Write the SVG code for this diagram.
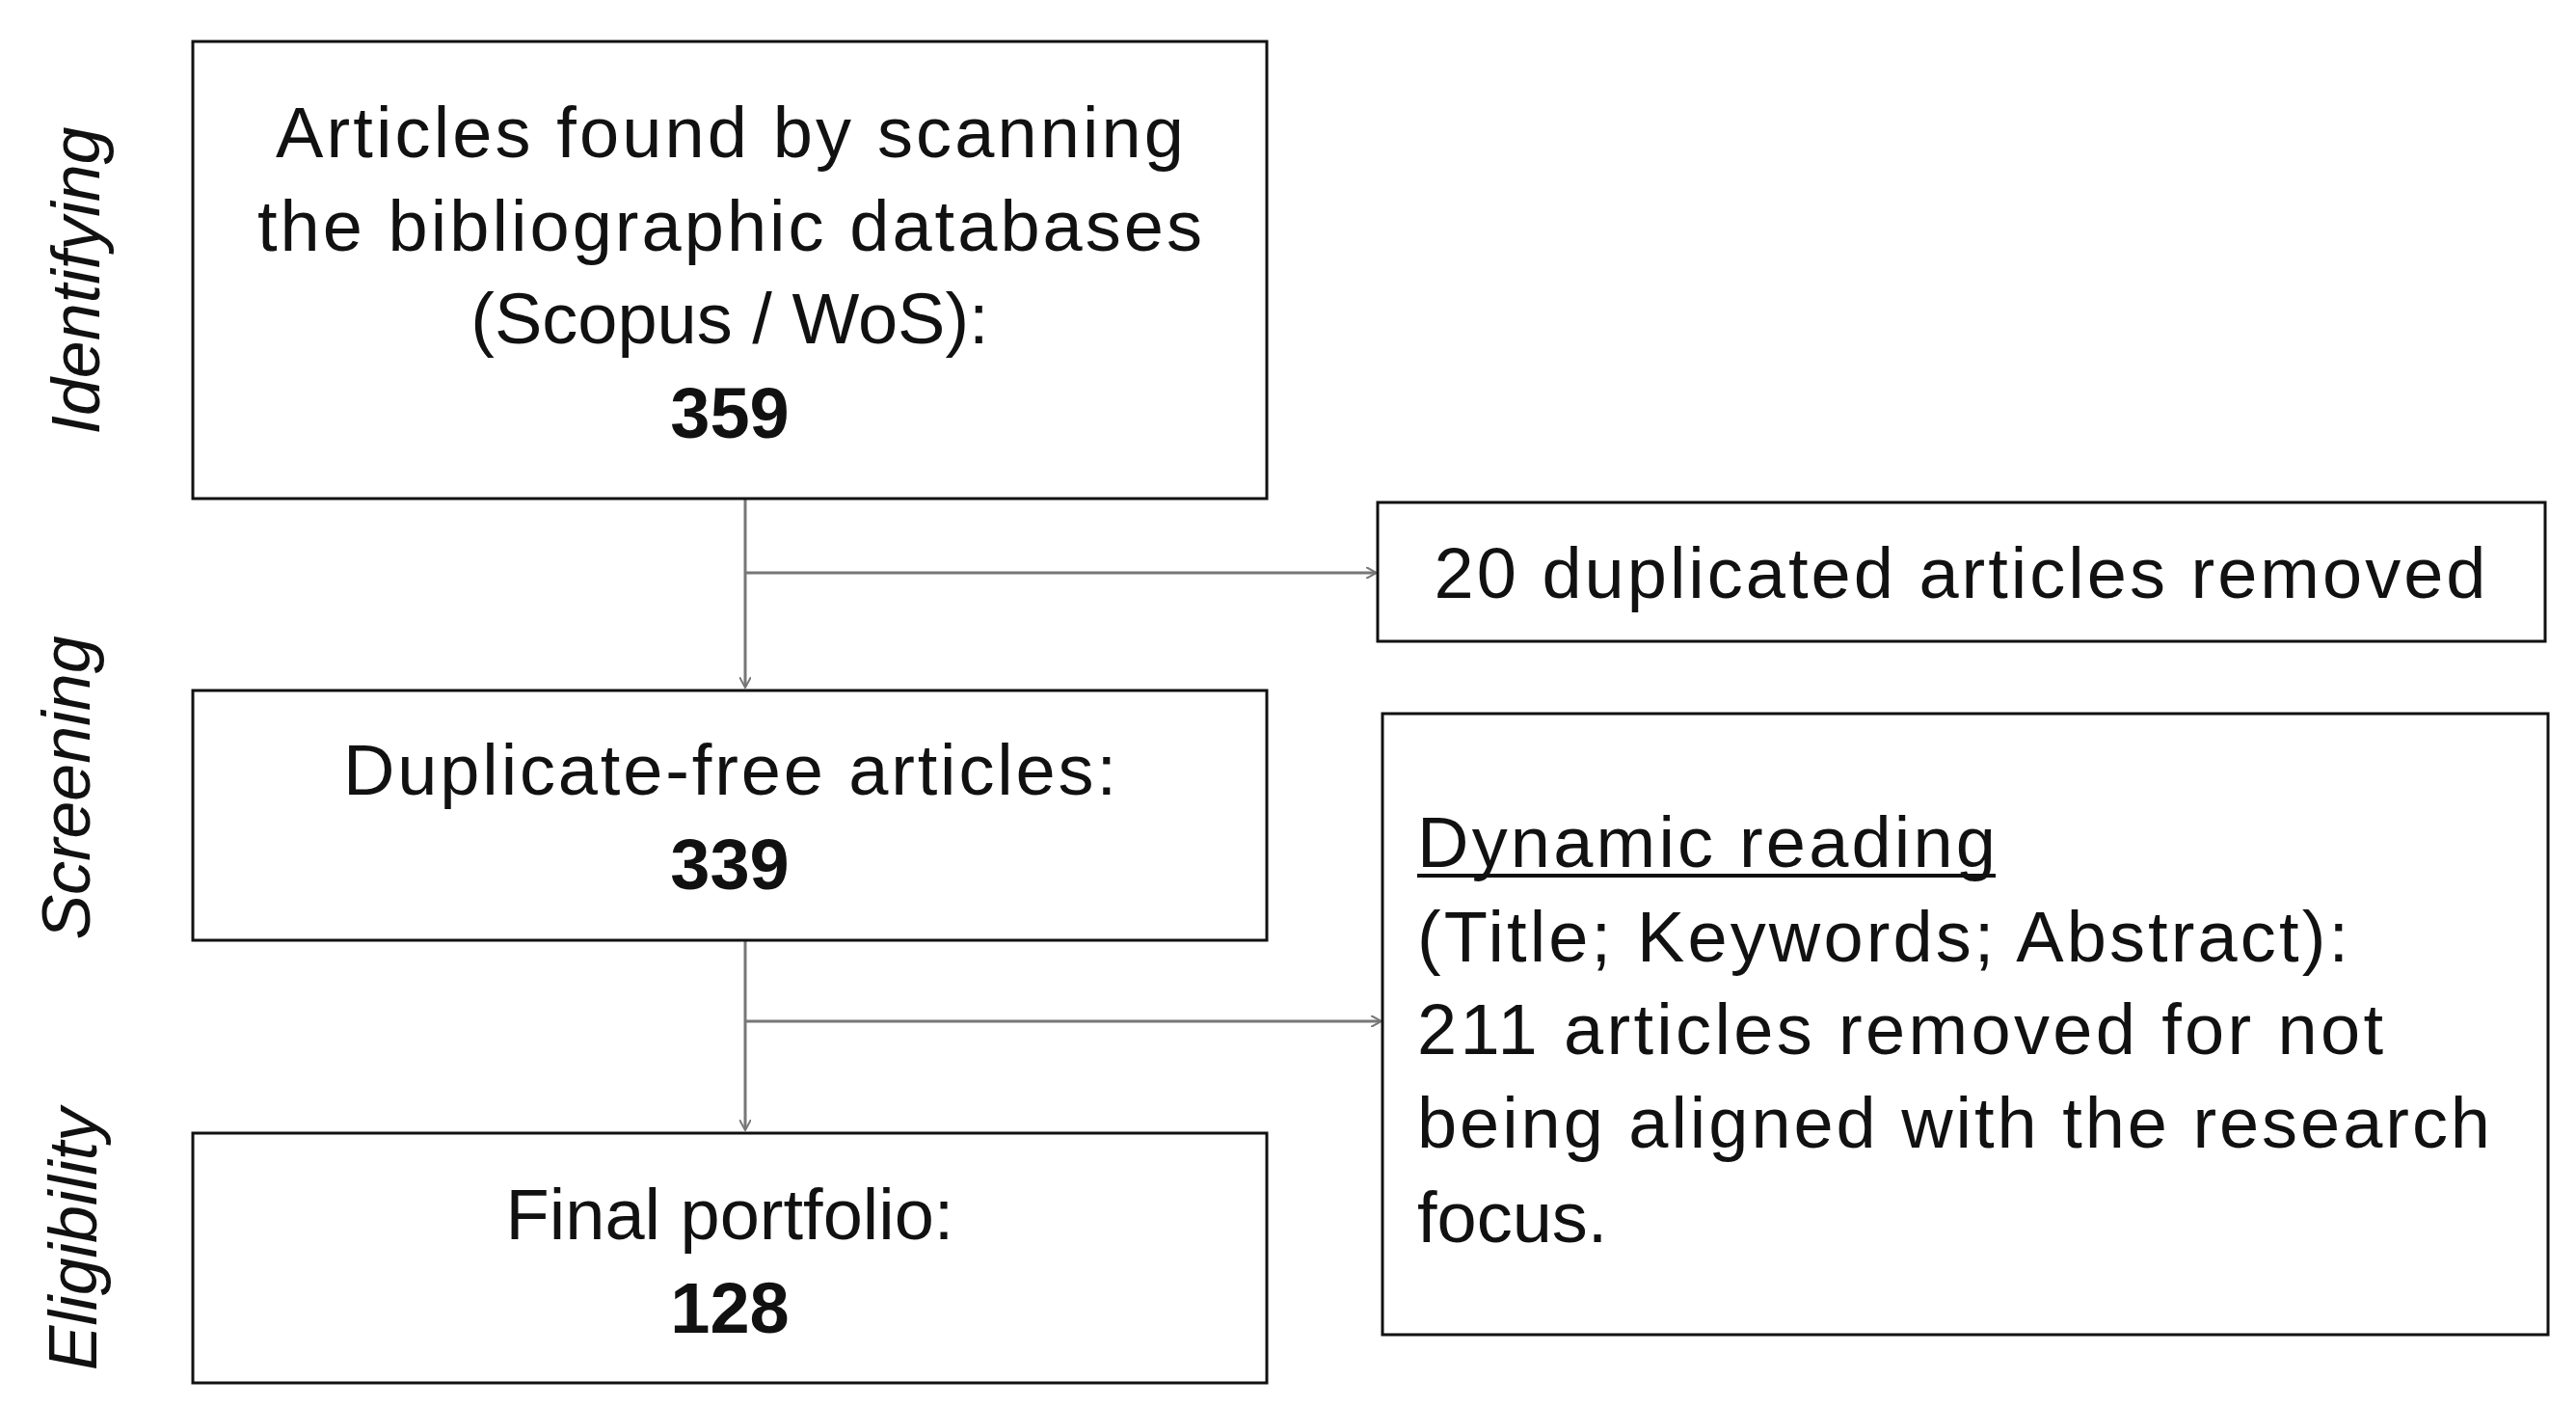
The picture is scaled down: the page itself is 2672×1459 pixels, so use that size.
<svg xmlns="http://www.w3.org/2000/svg" width="2672" height="1459" viewBox="0 0 2672 1459">
<defs>
<marker id="ah" markerWidth="12" markerHeight="12" refX="10" refY="6" orient="auto" markerUnits="userSpaceOnUse" viewBox="0 0 12 12"><path d="M0,0 L11,6 L0,12" fill="none" stroke="#777" stroke-width="2"/></marker>
<style>
.box{fill:#fff;stroke:#111;stroke-width:3}
.t{font-family:"Liberation Sans",Arial,sans-serif;font-size:74px;fill:#111}
.c{text-anchor:middle}
.b{font-weight:bold}
.side{font-family:"Liberation Sans",Arial,sans-serif;font-size:70px;font-style:italic;fill:#111;text-anchor:middle}
.ln{stroke:#777;stroke-width:3;fill:none}
</style>
</defs>
<rect width="2672" height="1459" fill="#fff"/>
<g id="labels">
<text class="side" transform="translate(103,291) rotate(-90)">Identifying</text>
<text class="side" transform="translate(93,817) rotate(-90)">Screening</text>
<text class="side" transform="translate(100,1285) rotate(-90)">Eligibility</text>
</g>
<g id="connectors">
<line class="ln" x1="773" y1="517" x2="773" y2="712" marker-end="url(#ah)"/>
<line class="ln" x1="773" y1="594" x2="1427" y2="594" marker-end="url(#ah)"/>
<line class="ln" x1="773" y1="975" x2="773" y2="1171" marker-end="url(#ah)"/>
<line class="ln" x1="773" y1="1059" x2="1432" y2="1059" marker-end="url(#ah)"/>
</g>
<g id="n1">
<rect class="box" x="200" y="43" width="1114" height="474"/>
<text class="t c" x="757" y="163" textLength="942" lengthAdjust="spacing">Articles found by scanning</text>
<text class="t c" x="757" y="260" textLength="980" lengthAdjust="spacing">the bibliographic databases</text>
<text class="t c" x="757" y="356">(Scopus / WoS):</text>
<text class="t c b" x="757" y="454">359</text>
</g>
<g id="n2">
<rect class="box" x="1429" y="521" width="1211" height="144"/>
<text class="t c" x="2033" y="620" textLength="1091" lengthAdjust="spacing">20 duplicated articles removed</text>
</g>
<g id="n3">
<rect class="box" x="200" y="716" width="1114" height="259"/>
<text class="t c" x="757" y="824" textLength="802" lengthAdjust="spacing">Duplicate-free articles:</text>
<text class="t c b" x="757" y="922">339</text>
</g>
<g id="n4">
<rect class="box" x="1434" y="740" width="1209" height="644"/>
<text class="t" x="1470" y="899" textLength="600" lengthAdjust="spacing">Dynamic reading</text>
<line x1="1470" y1="908" x2="2070" y2="908" stroke="#111" stroke-width="4"/>
<text class="t" x="1470" y="997" textLength="966" lengthAdjust="spacing">(Title; Keywords; Abstract):</text>
<text class="t" x="1470" y="1093" textLength="1002" lengthAdjust="spacing">211 articles removed for not</text>
<text class="t" x="1470" y="1190" textLength="1113" lengthAdjust="spacing">being aligned with the research</text>
<text class="t" x="1470" y="1288">focus.</text>
</g>
<g id="n5">
<rect class="box" x="200" y="1175" width="1114" height="259"/>
<text class="t c" x="757" y="1285">Final portfolio:</text>
<text class="t c b" x="757" y="1382">128</text>
</g>
</svg>
